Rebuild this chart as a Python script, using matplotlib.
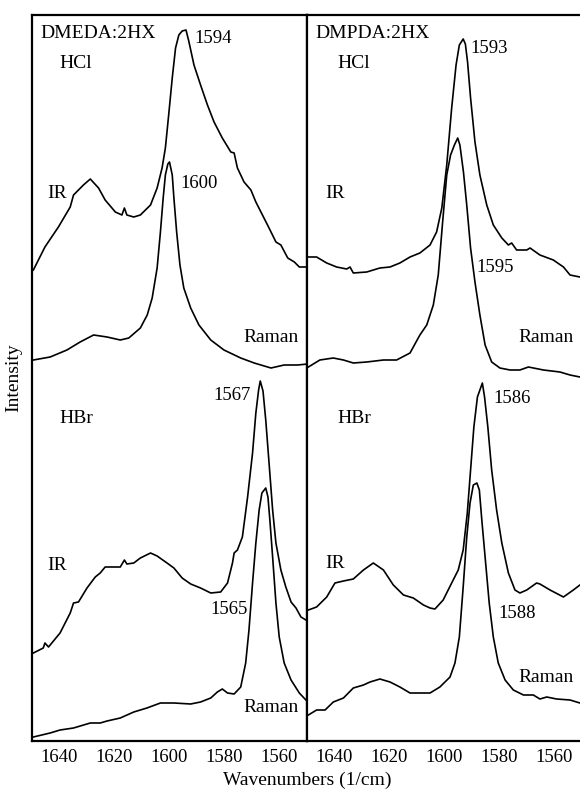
from matplotlib import pyplot as plt

plt.rcParams['font.family'] = ['Liberation Serif', 'DejaVu Serif']

# DMEDA:2HX spectra (wavenumber in 1/cm, intensity in arbitrary offset units)
dmeda_hcl_ir_wn = [1649.5, 1645.3, 1640.4, 1636.1, 1634.9, 1631.3, 1628.8, 1625.8, 1623.4,
                   1619.7, 1617.3, 1616.4, 1615.5, 1613.0, 1610.6, 1606.9, 1604.5, 1602.7,
                   1601.5, 1600.3, 1599.0, 1597.8, 1596.6, 1595.4, 1594.0, 1593.0, 1591.1,
                   1588.7, 1586.2, 1583.8, 1580.8, 1577.7, 1576.5, 1575.3, 1572.9, 1570.4,
                   1568.6, 1566.2, 1563.8, 1561.3, 1559.5, 1557.0, 1554.6, 1552.8, 1550.4,
                   1549.8]
dmeda_hcl_ir_int = [471, 494, 514, 534, 546, 556, 562, 553, 541,
                    529, 526, 533, 526, 524, 526, 536, 553, 573,
                    593, 626, 663, 693, 706, 710, 711, 700, 676,
                    656, 636, 619, 603, 589, 588, 573, 559, 551,
                    539, 526, 513, 499, 496, 483, 479, 474, 474,
                    474]

dmeda_hcl_raman_wn = [1649.5, 1643.4, 1637.3, 1632.5, 1627.6, 1622.7, 1617.9, 1614.8, 1610.6,
                      1608.1, 1606.3, 1604.5, 1603.3, 1602.3, 1601.5, 1600.6, 1600.0, 1599.0,
                      1598.4, 1597.4, 1596.2, 1594.8, 1592.3, 1589.3, 1585.0, 1580.2, 1574.1,
                      1569.2, 1563.1, 1558.3, 1553.4, 1549.8]
dmeda_hcl_raman_int = [381, 384, 391, 399, 406, 404, 401, 403, 413,
                       426, 443, 473, 509, 543, 566, 577, 579, 566,
                       543, 509, 476, 453, 433, 416, 401, 391, 383,
                       378, 373, 376, 376, 377]

dmeda_hbr_ir_wn = [1649.5, 1645.9, 1645.3, 1644.0, 1639.8, 1636.1, 1634.9, 1633.1, 1630.0,
                   1627.0, 1625.2, 1623.4, 1621.5, 1617.9, 1616.4, 1615.5, 1613.0, 1610.6,
                   1606.9, 1604.5, 1600.9, 1598.4, 1595.4, 1592.3, 1588.7, 1585.0, 1581.4,
                   1578.9, 1577.1, 1576.5, 1575.3, 1573.5, 1571.6, 1569.8, 1568.6, 1567.6,
                   1567.0, 1566.0, 1565.0, 1563.8, 1562.5, 1561.3, 1559.5, 1557.7, 1555.8,
                   1554.0, 1552.2, 1550.4, 1549.8]
dmeda_hbr_ir_int = [88, 93, 98, 94, 108, 128, 138, 139, 153,
                    164, 168, 174, 174, 174, 181, 177, 178, 183,
                    188, 185, 178, 173, 163, 157, 153, 148, 149,
                    158, 178, 188, 191, 204, 244, 288, 328, 351,
                    360, 350, 321, 278, 231, 198, 171, 154, 139,
                    133, 124, 121, 121]

dmeda_hbr_raman_wn = [1649.5, 1643.4, 1639.8, 1634.9, 1628.8, 1625.2, 1622.7, 1617.9, 1613.0,
                      1608.2, 1603.3, 1598.4, 1592.3, 1588.7, 1585.0, 1582.6, 1580.8, 1578.9,
                      1576.5, 1574.1, 1572.3, 1571.1, 1569.8, 1568.6, 1567.4, 1566.4, 1565.0,
                      1564.2, 1563.5, 1562.5, 1561.3, 1560.1, 1558.3, 1555.8, 1552.8, 1550.4,
                      1549.8]
dmeda_hbr_raman_int = [4, 8, 11, 13, 18, 18, 20, 23, 29,
                       33, 38, 38, 37, 39, 43, 49, 52, 48,
                       47, 54, 78, 111, 158, 198, 231, 248, 253,
                       244, 221, 184, 138, 104, 78, 61, 48, 41,
                       40]

# DMPDA:2HX spectra
dmpda_hcl_ir_wn = [1649.5, 1646.5, 1642.8, 1639.2, 1635.5, 1634.3, 1633.1, 1628.2, 1623.4,
                   1619.7, 1616.1, 1612.4, 1608.8, 1605.1, 1602.7, 1600.8, 1599.0, 1597.2,
                   1595.6, 1594.4, 1593.0, 1592.2, 1591.4, 1590.3, 1588.7, 1586.9, 1584.4,
                   1582.0, 1578.9, 1576.5, 1575.3, 1573.5, 1569.8, 1568.6, 1565.0, 1560.1,
                   1556.4, 1554.0, 1550.4]
dmpda_hcl_ir_int = [484, 484, 478, 474, 472, 474, 468, 469, 473,
                    474, 478, 484, 488, 496, 509, 533, 576, 633,
                    676, 696, 702, 697, 679, 643, 599, 566, 536,
                    516, 503, 496, 498, 491, 491, 493, 486, 481,
                    474, 466, 464]

dmpda_hcl_raman_wn = [1649.5, 1645.3, 1640.4, 1636.7, 1633.1, 1628.2, 1622.1, 1617.3, 1612.4,
                      1608.8, 1606.3, 1603.9, 1602.1, 1600.5, 1599.0, 1597.6, 1596.2, 1595.0,
                      1594.2, 1592.9, 1591.7, 1590.3, 1588.7, 1586.9, 1585.0, 1582.6, 1579.6,
                      1575.9, 1572.3, 1569.2, 1563.7, 1557.7, 1554.0, 1550.4]
dmpda_hcl_raman_int = [374, 381, 383, 381, 378, 379, 381, 381, 388,
                       406, 416, 436, 466, 519, 566, 586, 596, 603,
                       596, 569, 536, 493, 459, 426, 396, 379, 373,
                       371, 371, 374, 371, 369, 366, 364]

dmpda_hbr_ir_wn = [1649.5, 1646.5, 1642.8, 1639.8, 1636.7, 1633.1, 1629.4, 1625.8, 1622.1,
                   1618.5, 1614.8, 1611.2, 1607.5, 1605.1, 1603.3, 1600.3, 1597.2, 1594.8,
                   1593.0, 1591.5, 1590.3, 1589.1, 1587.8, 1586.0, 1585.2, 1584.0, 1582.6,
                   1580.8, 1578.9, 1576.5, 1574.1, 1572.3, 1569.8, 1566.2, 1565.0, 1561.3,
                   1556.4, 1552.8, 1550.4]
dmpda_hbr_ir_int = [131, 134, 144, 158, 160, 162, 171, 178, 171,
                    156, 146, 143, 136, 133, 132, 141, 158, 171,
                    191, 228, 271, 314, 344, 358, 344, 314, 271,
                    231, 198, 168, 151, 148, 151, 158, 157, 151,
                    144, 151, 156]

dmpda_hbr_raman_wn = [1649.5, 1646.5, 1643.4, 1640.4, 1636.7, 1633.1, 1629.4, 1627.0, 1623.4,
                      1619.7, 1616.1, 1612.4, 1607.5, 1605.1, 1601.5, 1597.8, 1596.0, 1594.4,
                      1593.0, 1591.7, 1590.5, 1589.3, 1588.0, 1587.1, 1586.2, 1585.0, 1583.5,
                      1582.0, 1580.2, 1577.7, 1574.7, 1571.0, 1567.4, 1565.0, 1562.5, 1558.9,
                      1554.0, 1550.4]
dmpda_hbr_raman_int = [26, 31, 31, 39, 43, 53, 56, 59, 62,
                       59, 54, 48, 48, 48, 54, 64, 78, 104,
                       154, 204, 238, 256, 258, 251, 221, 184, 138,
                       104, 78, 61, 51, 46, 46, 42, 44, 42,
                       41, 38]

tick_values = [1640, 1620, 1600, 1580, 1560]

fig = plt.figure(figsize=(5.8, 7.93), dpi=100)
ax_left = fig.add_axes([32/580, 1-741/793, 275/580, 726/793])
ax_right = fig.add_axes([307/580, 1-741/793, 274/580, 726/793])

line_style = dict(color='black', linewidth=1.2, solid_joinstyle='round')
ax_left.plot(dmeda_hcl_ir_wn, dmeda_hcl_ir_int, **line_style)
ax_left.plot(dmeda_hcl_raman_wn, dmeda_hcl_raman_int, **line_style)
ax_left.plot(dmeda_hbr_ir_wn, dmeda_hbr_ir_int, **line_style)
ax_left.plot(dmeda_hbr_raman_wn, dmeda_hbr_raman_int, **line_style)
ax_right.plot(dmpda_hcl_ir_wn, dmpda_hcl_ir_int, **line_style)
ax_right.plot(dmpda_hcl_raman_wn, dmpda_hcl_raman_int, **line_style)
ax_right.plot(dmpda_hbr_ir_wn, dmpda_hbr_ir_int, **line_style)
ax_right.plot(dmpda_hbr_raman_wn, dmpda_hbr_raman_int, **line_style)

for ax in (ax_left, ax_right):
    ax.set_xlim(1650, 1550)
    ax.set_ylim(0, 726)
    ax.set_xticks(tick_values)
    ax.set_yticks([])
    ax.tick_params(axis='x', length=0, pad=6, labelsize=13.5)
    for spine in ax.spines.values():
        spine.set_linewidth(1.6)
ax_right.spines['right'].set_visible(False)

txt = dict(fontsize=14, va='center')
num = dict(fontsize=13.5, va='center')

# left panel labels
ax_left.text(1647, 708, 'DMEDA:2HX', **txt)
ax_left.text(1640, 678, 'HCl', **txt)
ax_left.text(1644.5, 548, 'IR', **txt)
ax_left.text(1573, 404, 'Raman', **txt)
ax_left.text(1640, 323, 'HBr', **txt)
ax_left.text(1644.5, 176, 'IR', **txt)
ax_left.text(1573, 33, 'Raman', **txt)
ax_left.text(1591, 703, '1594', **num)
ax_left.text(1596, 558, '1600', **num)
ax_left.text(1570.4, 346, '1567', ha='right', **num)
ax_left.text(1571.5, 131, '1565', ha='right', **num)

# right panel labels
ax_right.text(1647, 708, 'DMPDA:2HX', **txt)
ax_right.text(1639, 678, 'HCl', **txt)
ax_right.text(1643.4, 548, 'IR', **txt)
ax_right.text(1573, 404, 'Raman', **txt)
ax_right.text(1639, 323, 'HBr', **txt)
ax_right.text(1643.4, 178, 'IR', **txt)
ax_right.text(1573, 63, 'Raman', **txt)
ax_right.text(1590.5, 693, '1593', **num)
ax_right.text(1588.3, 474, '1595', **num)
ax_right.text(1582.1, 343, '1586', **num)
ax_right.text(1580.3, 128, '1588', **num)

fig.text(307/580, 1-780/793, 'Wavenumbers (1/cm)', fontsize=14, ha='center', va='center')
fig.text(14/580, 1-378/793, 'Intensity', fontsize=14, rotation=90, ha='center', va='center')

fig.savefig('out.png', dpi=100)
